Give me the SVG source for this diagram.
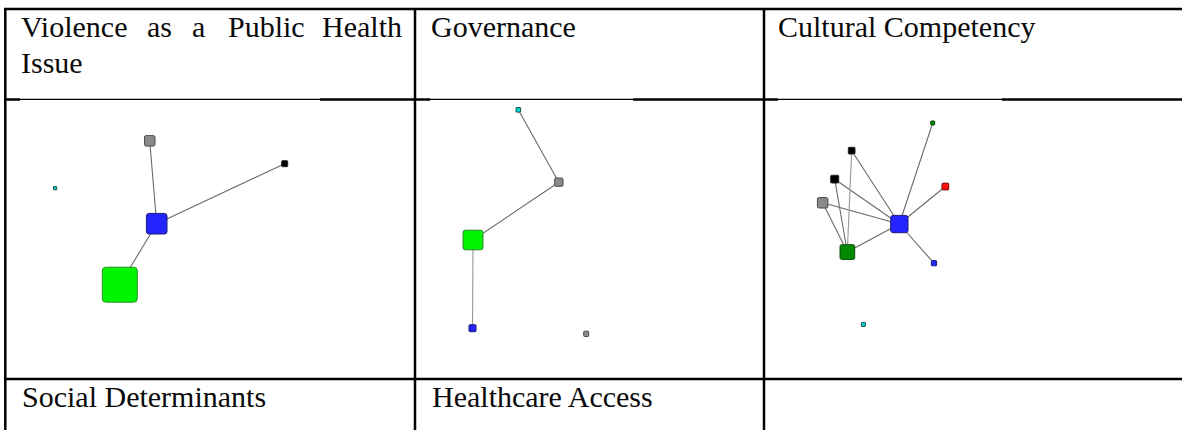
<svg xmlns="http://www.w3.org/2000/svg" width="1182" height="430" viewBox="0 0 1182 430">
  <style>
    .cell { font-family: "Liberation Serif", "Times New Roman", serif; font-size: 30px; fill: #0a0a0a; }
    .rule { stroke: #000; stroke-width: 2.5; fill: none; }
    .thin { stroke: #000; stroke-width: 1.3; fill: none; }
    .edge { stroke: #6a6a6a; stroke-width: 1.1; fill: none; }
    .edge-light { stroke: #9a9a9a; stroke-width: 1.1; fill: none; }
    .n-blue { fill: #2424ff; stroke: #1c1c7a; stroke-width: 1; }
    .n-lime { fill: #00f500; stroke: #2e8b2e; stroke-width: 1; }
    .n-gray { fill: #8a8a8a; stroke: #4a4a4a; stroke-width: 1; }
    .n-black { fill: #000; stroke: #222; stroke-width: 1; }
    .n-cyan { fill: #00d8d8; stroke: #1a4a4a; stroke-width: 1; }
    .n-green { fill: #008a00; stroke: #0b4a0b; stroke-width: 1; }
    .n-red { fill: #ff1010; stroke: #7a0000; stroke-width: 1; }
  </style>

  <rect x="0" y="0" width="1182" height="430" fill="#fff"/>

  <!-- table grid -->
  <g id="table">
    <line class="rule" x1="4" y1="9" x2="1182" y2="9"/>
    <line class="rule" x1="5.3" y1="8" x2="5.3" y2="430"/>
    <line class="rule" x1="415" y1="8" x2="415" y2="430"/>
    <line class="rule" x1="764" y1="8" x2="764" y2="430"/>
    <!-- row 1 bottom: heavy where exposed, lighter where the charts overlap it -->
    <line class="rule" x1="4" y1="99.5" x2="20" y2="99.5"/>
    <line class="thin" x1="20" y1="99.3" x2="320" y2="99.3"/>
    <line class="rule" x1="320" y1="99.5" x2="430" y2="99.5"/>
    <line class="thin" x1="430" y1="99.3" x2="633" y2="99.3"/>
    <line class="rule" x1="633" y1="99.5" x2="778" y2="99.5"/>
    <line class="thin" x1="778" y1="99.3" x2="1002" y2="99.3"/>
    <line class="rule" x1="1002" y1="99.5" x2="1182" y2="99.5"/>
    <line class="rule" x1="4" y1="379" x2="1182" y2="379"/>
  </g>

  <!-- cell captions -->
  <g id="caption-violence">
    <text class="cell" y="36.5"><tspan x="21">Violence</tspan><tspan x="147">as</tspan><tspan x="192">a</tspan><tspan x="228">Public</tspan><tspan x="322">Health</tspan></text>
    <text class="cell" x="21" y="72.5">Issue</text>
  </g>
  <g id="caption-governance"><text class="cell" x="431" y="36.5">Governance</text></g>
  <g id="caption-cultural"><text class="cell" x="778" y="36.5">Cultural Competency</text></g>
  <g id="caption-social"><text class="cell" x="22" y="407">Social Determinants</text></g>
  <g id="caption-healthcare"><text class="cell" x="432" y="407">Healthcare Access</text></g>

  <!-- connectors -->
  <g id="connectors">
    <!-- chart 1 -->
    <line class="edge" x1="149.7" y1="140.8" x2="156.7" y2="223.7"/>
    <line class="edge" x1="156.7" y1="223.7" x2="284.7" y2="163.7"/>
    <line class="edge" x1="156.7" y1="223.7" x2="119.8" y2="284.7"/>
    <!-- chart 2 -->
    <line class="edge" x1="518.3" y1="109.8" x2="558.8" y2="182.2"/>
    <line class="edge" x1="558.8" y1="182.2" x2="473" y2="240"/>
    <line class="edge-light" x1="473" y1="240" x2="472.5" y2="328.2"/>
    <!-- chart 3 -->
    <line class="edge" x1="899.3" y1="224" x2="932.7" y2="123"/>
    <line class="edge" x1="899.3" y1="224" x2="945.3" y2="186.5"/>
    <line class="edge" x1="899.3" y1="224" x2="934" y2="263.2"/>
    <line class="edge" x1="899.3" y1="224" x2="851.7" y2="150.7"/>
    <line class="edge" x1="899.3" y1="224" x2="834.7" y2="179.2"/>
    <line class="edge" x1="899.3" y1="224" x2="822.7" y2="202.8"/>
    <line class="edge" x1="899.3" y1="224" x2="847.3" y2="252"/>
    <line class="edge-light" x1="847.3" y1="252" x2="851.7" y2="150.7"/>
    <line class="edge" x1="847.3" y1="252" x2="834.7" y2="179.2"/>
    <line class="edge" x1="847.3" y1="252" x2="822.7" y2="202.8"/>
  </g>

  <!-- chart 1 nodes -->
  <g id="v-gray"><rect class="n-gray" x="144.5" y="135.6" width="10.5" height="10.5" rx="1.6"/></g>
  <g id="v-black"><rect class="n-black" x="281.7" y="160.7" width="6" height="6" rx="0.8"/></g>
  <g id="v-cyan"><rect class="n-cyan" x="53.5" y="186.6" width="3.2" height="3.2" rx="0.4"/></g>
  <g id="v-blue"><rect class="n-blue" x="146.4" y="213.4" width="20.6" height="20.6" rx="2.6"/></g>
  <g id="v-lime"><rect class="n-lime" x="102.3" y="267.2" width="35" height="35" rx="3.5"/></g>

  <!-- chart 2 nodes -->
  <g id="g-cyan"><rect class="n-cyan" x="516" y="107.5" width="4.6" height="4.6" rx="0.6"/></g>
  <g id="g-gray"><rect class="n-gray" x="554.7" y="178" width="8.3" height="8.3" rx="1.2"/></g>
  <g id="g-lime"><rect class="n-lime" x="463" y="230.2" width="20" height="19.6" rx="2.4"/></g>
  <g id="g-blue"><rect class="n-blue" x="469" y="324.7" width="7" height="7" rx="1"/></g>
  <g id="g-gray2"><rect class="n-gray" x="583.7" y="331.2" width="5" height="5.3" rx="0.8"/></g>

  <!-- chart 3 nodes -->
  <g id="c-green-small"><rect class="n-green" x="930.7" y="121" width="4" height="4" rx="0.5"/></g>
  <g id="c-black-a"><rect class="n-black" x="848.3" y="147.3" width="6.7" height="6.7" rx="0.9"/></g>
  <g id="c-black-b"><rect class="n-black" x="830.7" y="175.3" width="8" height="7.7" rx="1"/></g>
  <g id="c-red"><rect class="n-red" x="942" y="183.2" width="6.7" height="6.7" rx="0.9"/></g>
  <g id="c-gray"><rect class="n-gray" x="817.4" y="197.6" width="10.5" height="10.4" rx="1.6"/></g>
  <g id="c-blue"><rect class="n-blue" x="890.7" y="215.4" width="17.3" height="17.3" rx="2.4"/></g>
  <g id="c-green"><rect class="n-green" x="840" y="244.7" width="14.7" height="14.7" rx="1.8"/></g>
  <g id="c-blue-small"><rect class="n-blue" x="931.4" y="260.6" width="5.2" height="5.2" rx="0.7"/></g>
  <g id="c-cyan"><rect class="n-cyan" x="861.4" y="322.4" width="4" height="4" rx="0.5"/></g>
</svg>
